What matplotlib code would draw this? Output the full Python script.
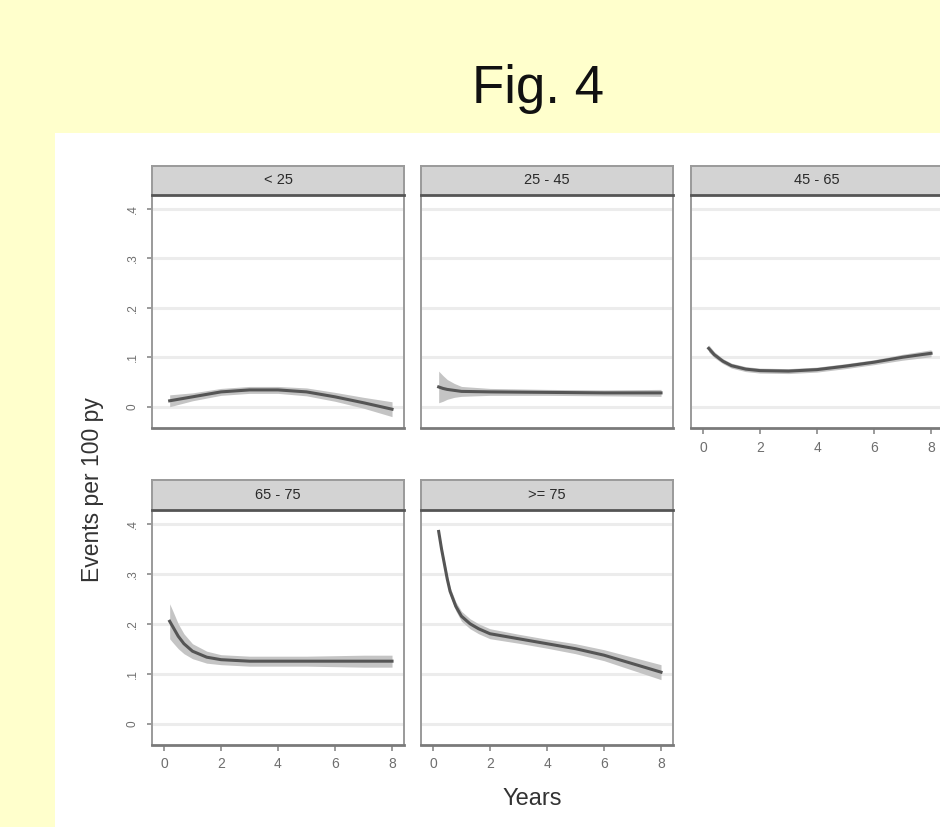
#!/usr/bin/env python3
"""Fig. 4: event rate over follow-up by age group (Stata-style small multiples)."""

import matplotlib
matplotlib.use("Agg")
import matplotlib.pyplot as plt
from matplotlib.patches import Rectangle

plt.rcParams["font.family"] = ["Liberation Sans", "DejaVu Sans"]

# ---- data ----
AGE_GROUPS = ["< 25", "25 - 45", "45 - 65", "65 - 75", ">= 75"]

YEARS_LT25 = [0.2, 1, 2, 3, 4, 5, 6, 7, 8]
RATE_LT25 = [0.012, 0.020, 0.030, 0.034, 0.034, 0.030, 0.020, 0.008, -0.005]
HALF_LT25 = [0.012, 0.008, 0.007, 0.007, 0.007, 0.008, 0.009, 0.011, 0.015]

YEARS_25_45 = [0.2, 0.35, 0.5, 0.75, 1, 2, 4, 6, 8]
RATE_25_45 = [0.040, 0.037, 0.035, 0.033, 0.031, 0.030, 0.029, 0.028, 0.028]
HALF_25_45 = [0.032, 0.026, 0.020, 0.014, 0.010, 0.007, 0.006, 0.006, 0.007]

YEARS_45_65 = [0.2, 0.4, 0.7, 1, 1.5, 2, 3, 4, 5, 6, 7, 8]
RATE_45_65 = [0.118, 0.105, 0.092, 0.083, 0.076, 0.073, 0.072, 0.075, 0.082, 0.090, 0.100, 0.108]
HALF_45_65 = [0.007, 0.006, 0.005, 0.005, 0.005, 0.005, 0.005, 0.005, 0.005, 0.005, 0.006, 0.007]

YEARS_65_75 = [0.2, 0.3, 0.5, 0.7, 1, 1.5, 2, 3, 4, 5, 6, 7, 8]
RATE_65_75 = [0.205, 0.195, 0.175, 0.160, 0.145, 0.133, 0.128, 0.125, 0.125, 0.125, 0.125, 0.125, 0.125]
HALF_65_75 = [0.035, 0.032, 0.025, 0.020, 0.015, 0.012, 0.010, 0.010, 0.010, 0.010, 0.011, 0.012, 0.012]

YEARS_GE75 = [0.2, 0.3, 0.4, 0.5, 0.6, 0.8, 1.0, 1.3, 1.6, 2, 3, 4, 5, 6, 7, 8]
RATE_GE75 = [0.385, 0.350, 0.320, 0.290, 0.265, 0.235, 0.215, 0.200, 0.190, 0.180,
             0.170, 0.160, 0.150, 0.137, 0.120, 0.103]
HALF_GE75 = [0.005, 0.006, 0.007, 0.008, 0.008, 0.009, 0.010, 0.010, 0.010, 0.010,
             0.009, 0.009, 0.010, 0.011, 0.013, 0.015]

SERIES = [
    (YEARS_LT25, RATE_LT25, HALF_LT25),
    (YEARS_25_45, RATE_25_45, HALF_25_45),
    (YEARS_45_65, RATE_45_65, HALF_45_65),
    (YEARS_65_75, RATE_65_75, HALF_65_75),
    (YEARS_GE75, RATE_GE75, HALF_GE75),
]

Y_TICKS = [0, 0.1, 0.2, 0.3, 0.4]
Y_TICK_LABELS = ["0", ".1", ".2", ".3", ".4"]
X_TICKS = [0, 2, 4, 6, 8]

# ---- layout (pixels of a 940x827 canvas) ----
W, H = 940, 827
COL_X = [152, 421, 691]
PANEL_W = 252
ROWS = [(166, 195, 428), (480, 510, 745)]  # strip top, plot top, plot bottom

BG_YELLOW = "#FFFFCC"
LINE_COLOR = "#555555"
BAND_COLOR = "#c4c4c4"
GRID_COLOR = "#ececec"
FRAME_COLOR = "#9a9a9a"
STRIP_COLOR = "#d3d3d3"
TICK_TEXT = "#6e6e6e"


def box(x0, y0, x1, y1):
    """Pixel box -> figure fraction [left, bottom, width, height]."""
    return [x0 / W, 1 - y1 / H, (x1 - x0) / W, (y1 - y0) / H]


def draw_panel(fig, idx, label, years, rate, half):
    row, col = divmod(idx, 3)
    strip_top, top, bottom = ROWS[row]
    x0 = COL_X[col]
    x1 = x0 + PANEL_W

    ax = fig.add_axes(box(x0, top, x1, bottom))
    ax.set_xlim(-0.42, 8.42)
    ax.set_ylim(-0.043, 0.428)
    ax.set_yticks(Y_TICKS)
    ax.set_xticks(X_TICKS)
    for y in Y_TICKS:
        ax.axhline(y, color=GRID_COLOR, lw=2.2, zorder=0)

    lo = [r - h for r, h in zip(rate, half)]
    hi = [r + h for r, h in zip(rate, half)]
    ax.fill_between(years, lo, hi, color=BAND_COLOR, lw=0, zorder=2)
    ax.plot(years, rate, color=LINE_COLOR, lw=2.2, zorder=3)

    for sp in ax.spines.values():
        sp.set_color(FRAME_COLOR)
        sp.set_linewidth(1.4)
    ax.spines["bottom"].set_color("#7a7a7a")
    ax.spines["bottom"].set_linewidth(2.0)

    # y axis only on the left column
    if col == 0:
        ax.tick_params(axis="y", length=3.5, width=1.2, color="#8a8a8a",
                       labelsize=8.5, labelcolor=TICK_TEXT, pad=6)
        ax.set_yticklabels(Y_TICK_LABELS, rotation=90, va="center")
    else:
        ax.tick_params(axis="y", length=0, labelleft=False)

    # x axis on panels that have nothing below them
    if idx >= 2:
        ax.tick_params(axis="x", length=4, width=1.2, color="#8a8a8a",
                       labelsize=10, labelcolor=TICK_TEXT, pad=5)
    else:
        ax.tick_params(axis="x", length=0, labelbottom=False)

    # strip header
    sax = fig.add_axes(box(x0, strip_top, x1, top))
    sax.set_facecolor(STRIP_COLOR)
    sax.set_xticks([])
    sax.set_yticks([])
    for sp in sax.spines.values():
        sp.set_color(FRAME_COLOR)
        sp.set_linewidth(1.4)
    sax.spines["bottom"].set_color("#555555")
    sax.spines["bottom"].set_linewidth(2.0)
    sax.text(0.5, 0.5, label, ha="center", va="center", fontsize=10.5,
             color="#2a2a2a", transform=sax.transAxes)
    return ax


def main():
    fig = plt.figure(figsize=(W / 100, H / 100), dpi=100)
    fig.patch.set_facecolor(BG_YELLOW)

    # white plot region, kept behind the panels
    fig.patches.append(Rectangle((55 / W, 0), 1 - 55 / W, 1 - 133 / H,
                                 transform=fig.transFigure, facecolor="white",
                                 edgecolor="none", zorder=-10))

    for i, (label, (yrs, rate, half)) in enumerate(zip(AGE_GROUPS, SERIES)):
        draw_panel(fig, i, label, yrs, rate, half)

    fig.text(538 / W, 1 - 103 / H, "Fig. 4", ha="center", va="baseline",
             fontsize=38, color="#111111")
    fig.text(92 / W, 1 - 490 / H, "Events per 100 py", rotation=90,
             ha="center", va="center", fontsize=16.5, color="#333333")
    fig.text(532 / W, 1 - 799 / H, "Years", ha="center", va="center",
             fontsize=17, color="#333333")

    fig.savefig("out.png", dpi=100, facecolor=fig.get_facecolor())
    plt.close(fig)


if __name__ == "__main__":
    main()
